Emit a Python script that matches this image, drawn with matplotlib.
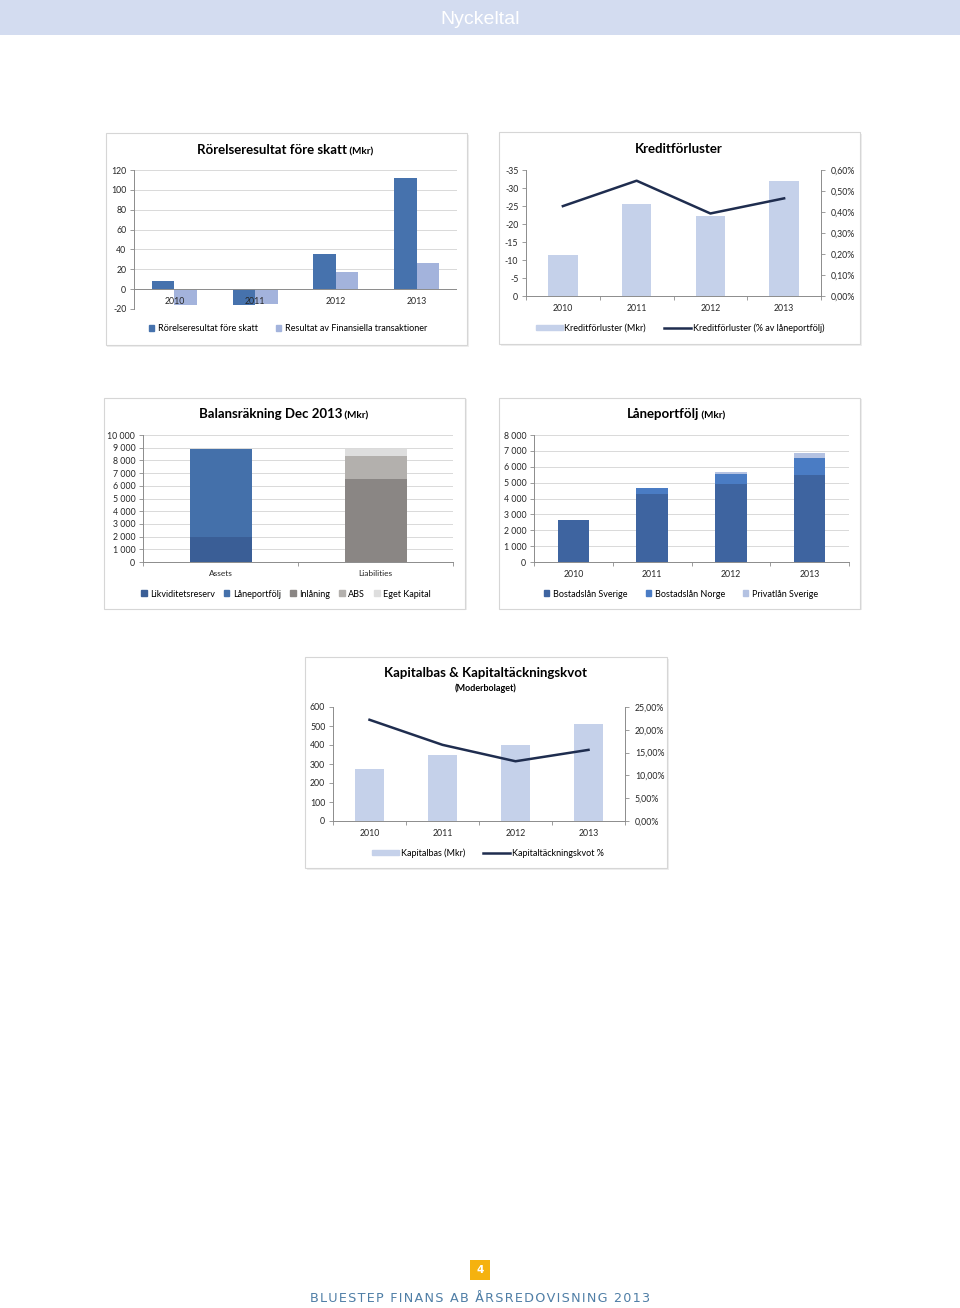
import matplotlib
matplotlib.use("Agg")
import matplotlib.pyplot as plt
from matplotlib.patches import Rectangle, Patch
from matplotlib.lines import Line2D
from matplotlib.text import Annotation
from matplotlib.ticker import FuncFormatter, MultipleLocator

# ---- data ----
years = ["2010", "2011", "2012", "2013"]

rorelse = [8, -16, 35, 112]
finans = [-16, -15, 17, 26]

kredit_mkr = [-11.5, -25.5, -22.3, -32.0]
kredit_pct = [0.00428, 0.00549, 0.00393, 0.00465]

bal_cats = ["Assets", "Liabilities"]
likviditet = [2000, 0]
laneport = [6870, 0]
inlaning = [0, 6560]
abs_ = [0, 1780]
eget = [0, 530]

sverige = [2650, 4300, 4900, 5470]
norge = [0, 350, 660, 1100]
privat = [0, 0, 85, 316]

kapitalbas = [275, 350, 402, 508]
kvot = [0.222, 0.167, 0.131, 0.156]

W, H = 960, 1308
FONT = "Lato"
TXT = "#262626"
GRID = "#d9d9d9"
AXC = "#8c8c8c"

plt.rcParams["font.family"] = [FONT, "DejaVu Sans"]
plt.rcParams["axes.unicode_minus"] = False

fig = plt.figure(figsize=(W / 100, H / 100), dpi=100)


def rect(x0, y0, x1, y1):
    return [x0 / W, 1 - y1 / H, (x1 - x0) / W, (y1 - y0) / H]


def fx(x):
    return x / W


def fy(y):
    return 1 - y / H


def thousands(v, pos=None):
    return f"{int(round(v)):,}".replace(",", " ")


def pct(v, pos=None):
    return f"{v * 100:.2f}%".replace(".", ",")


def panel(x0, y0, x1, y1):
    fig.patches.append(Rectangle((fx(x0) + 1.5 / W, fy(y1) - 1.5 / H), (x1 - x0) / W, (y1 - y0) / H,
                                 transform=fig.transFigure, facecolor="#eeeeee", edgecolor="none", zorder=-3))
    fig.patches.append(Rectangle((fx(x0), fy(y1)), (x1 - x0) / W, (y1 - y0) / H,
                                 transform=fig.transFigure, facecolor="white", edgecolor="#d6d6d6",
                                 linewidth=0.8, zorder=-2))


def title(x, y, main, unit=None):
    t = fig.text(fx(x), fy(y), main, fontsize=9.5, fontweight="bold", color="black",
                 ha="left", va="center")
    if unit:
        fig.add_artist(Annotation(" " + unit, xy=(1, 0), xycoords=t,
                                  xytext=(0, -0.5), textcoords="offset points",
                                  fontsize=7.2, fontweight="bold", color="black", va="bottom"))
    return t


def style(ax, grid=True):
    for s in ["top", "right"]:
        ax.spines[s].set_visible(False)
    ax.spines["left"].set_color(AXC)
    ax.spines["bottom"].set_color(AXC)
    ax.spines["left"].set_linewidth(0.7)
    ax.spines["bottom"].set_linewidth(0.7)
    ax.tick_params(axis="y", labelsize=6.3, colors=AXC, labelcolor=TXT, length=3, width=0.6, pad=2.5)
    ax.tick_params(axis="x", labelsize=6.3, colors=AXC, labelcolor=TXT, length=3, width=0.6, pad=6)
    if grid:
        ax.yaxis.grid(True, color=GRID, linewidth=0.7)
        ax.set_axisbelow(True)
    ax.set_facecolor("none")


def cat_ticks(ax, pos, labels):
    ax.set_xticks(pos)
    ax.set_xticklabels(labels)
    ax.set_xticks([p - 0.5 for p in pos] + [pos[-1] + 0.5], minor=True)
    ax.tick_params(axis="x", which="major", length=0)
    ax.tick_params(axis="x", which="minor", length=3, color=AXC, width=0.6)


def right_pct(ax, top, step):
    ax.set_ylim(0, top)
    ax.yaxis.set_major_locator(MultipleLocator(step))
    ax.yaxis.set_major_formatter(FuncFormatter(pct))
    for s in ["top", "left", "bottom"]:
        ax.spines[s].set_visible(False)
    ax.spines["right"].set_color(AXC)
    ax.spines["right"].set_linewidth(0.7)
    ax.tick_params(axis="y", labelsize=6.3, colors=AXC, labelcolor=TXT, length=3, width=0.6, pad=4)


# ---- header ----
fig.patches.append(Rectangle((0, fy(35)), 1, 35 / H, transform=fig.transFigure,
                             facecolor="#d3dcf0", edgecolor="none"))
fig.text(0.5, fy(19), "Nyckeltal", fontsize=14, color="white", ha="center", va="center",
         family="Liberation Sans")

x = list(range(4))

# ---- chart 1: Rörelseresultat ----
panel(106, 133, 467, 345)
ax1 = fig.add_axes(rect(134, 170, 457, 309))
style(ax1)
ax1.bar([i - 0.14 for i in x], rorelse, width=0.28, color="#4672ad", zorder=2)
ax1.bar([i + 0.14 for i in x], finans, width=0.28, color="#a3b3dc", zorder=2)
ax1.set_ylim(-20, 120)
ax1.set_xlim(-0.5, 3.5)
ax1.yaxis.set_major_locator(MultipleLocator(20))
ax1.axhline(0, color=AXC, linewidth=0.7, zorder=3)
ax1.spines["bottom"].set_visible(False)
ax1.set_xticks([])
for i, yr in enumerate(years):
    ax1.annotate(yr, (i, 0), xytext=(0, -5.5), textcoords="offset points", ha="center", va="top",
                 fontsize=6.3, color=TXT, zorder=4)
title(197, 150, "Rörelseresultat före skatt", "(Mkr)")
fig.legend(handles=[Patch(color="#4672ad", label="Rörelseresultat före skatt"),
                    Patch(color="#a3b3dc", label="Resultat av Finansiella transaktioner")],
           loc="center", bbox_to_anchor=(fx(288), fy(329)), ncol=2, frameon=False,
           fontsize=6.5, handlelength=0.6, handleheight=0.6, handletextpad=0.4, columnspacing=2.0)

# ---- chart 2: Kreditförluster ----
panel(499, 132, 860, 344)
ax2 = fig.add_axes(rect(526, 170, 821, 296))
style(ax2, grid=False)
ax2.bar(x, kredit_mkr, width=0.4, color="#c5d1ea", zorder=2)
ax2.set_ylim(0, -35)
ax2.set_xlim(-0.5, 3.5)
ax2.yaxis.set_major_locator(MultipleLocator(5))
cat_ticks(ax2, x, years)
ax2b = ax2.twinx()
ax2b.plot(x, kredit_pct, color="#1f2d4f", linewidth=1.8)
right_pct(ax2b, 0.006, 0.001)
fig.text(fx(679), fy(149), "Kreditförluster", fontsize=9.5, fontweight="bold", ha="center", va="center")
fig.legend(handles=[Patch(color="#c5d1ea", label="Kreditförluster (Mkr)"),
                    Line2D([], [], color="#1f2d4f", linewidth=1.8, label="Kreditförluster (% av låneportfölj)")],
           loc="center", bbox_to_anchor=(fx(680), fy(328)), ncol=2, frameon=False,
           fontsize=6.5, handlelength=3.0, handleheight=0.6, handletextpad=0.2, columnspacing=2.0)

# ---- chart 3: Balansräkning ----
panel(104, 398, 465, 609)
ax3 = fig.add_axes(rect(143, 435, 453, 562))
style(ax3)
bx = [0, 1]
bottom = [0, 0]
bal_series = [(likviditet, "#3a5e96", "Likviditetsreserv"),
              (laneport, "#4470aa", "Låneportfölj"),
              (inlaning, "#8a8684", "Inlåning"),
              (abs_, "#b3b0ad", "ABS"),
              (eget, "#dedede", "Eget Kapital")]
for vals, col, lab in bal_series:
    ax3.bar(bx, vals, bottom=bottom, width=0.4, color=col, label=lab, zorder=2)
    bottom = [b + v for b, v in zip(bottom, vals)]
ax3.set_ylim(0, 10000)
ax3.set_xlim(-0.5, 1.5)
ax3.yaxis.set_major_locator(MultipleLocator(1000))
ax3.yaxis.set_major_formatter(FuncFormatter(thousands))
cat_ticks(ax3, bx, bal_cats)
ax3.tick_params(axis="x", which="major", labelsize=6.0)
title(199, 414, "Balansräkning Dec 2013", "(Mkr)")
fig.legend(handles=[Patch(color=c, label=l) for _, c, l in bal_series],
           loc="center", bbox_to_anchor=(fx(286), fy(594)), ncol=5, frameon=False,
           fontsize=6.5, handlelength=0.6, handleheight=0.6, handletextpad=0.4, columnspacing=1.0)

# ---- chart 4: Låneportfölj ----
panel(499, 398, 860, 609)
ax4 = fig.add_axes(rect(534, 435, 849, 562))
style(ax4)
bottom = [0, 0, 0, 0]
lp_series = [(sverige, "#3e64a0", "Bostadslån Sverige"),
             (norge, "#4a7cc4", "Bostadslån Norge"),
             (privat, "#b4c2e2", "Privatlån Sverige")]
for vals, col, lab in lp_series:
    ax4.bar(x, vals, bottom=bottom, width=0.4, color=col, label=lab, zorder=2)
    bottom = [b + v for b, v in zip(bottom, vals)]
ax4.set_ylim(0, 8000)
ax4.set_xlim(-0.5, 3.5)
ax4.yaxis.set_major_locator(MultipleLocator(1000))
ax4.yaxis.set_major_formatter(FuncFormatter(thousands))
cat_ticks(ax4, x, years)
title(627, 414, "Låneportfölj", "(Mkr)")
fig.legend(handles=[Patch(color=c, label=l) for _, c, l in lp_series],
           loc="center", bbox_to_anchor=(fx(681), fy(594)), ncol=3, frameon=False,
           fontsize=6.5, handlelength=0.6, handleheight=0.6, handletextpad=0.4, columnspacing=2.0)

# ---- chart 5: Kapitalbas ----
panel(305, 657, 667, 868)
ax5 = fig.add_axes(rect(333, 707, 625, 821))
style(ax5, grid=False)
ax5.bar(x, kapitalbas, width=0.4, color="#c5d1ea", zorder=2)
ax5.set_ylim(0, 600)
ax5.set_xlim(-0.5, 3.5)
ax5.yaxis.set_major_locator(MultipleLocator(100))
cat_ticks(ax5, x, years)
ax5b = ax5.twinx()
ax5b.plot(x, kvot, color="#1f2d4f", linewidth=1.8)
right_pct(ax5b, 0.25, 0.05)
fig.text(fx(486), fy(673), "Kapitalbas & Kapitaltäckningskvot", fontsize=9.5, fontweight="bold",
         ha="center", va="center")
fig.text(fx(486), fy(688), "(Moderbolaget)", fontsize=6.5, fontweight="bold", ha="center", va="center")
fig.legend(handles=[Patch(color="#c5d1ea", label="Kapitalbas (Mkr)"),
                    Line2D([], [], color="#1f2d4f", linewidth=1.8, label="Kapitaltäckningskvot %")],
           loc="center", bbox_to_anchor=(fx(488), fy(853)), ncol=2, frameon=False,
           fontsize=6.5, handlelength=3.0, handleheight=0.6, handletextpad=0.2, columnspacing=2.0)

# ---- footer ----
fig.patches.append(Rectangle((fx(470), fy(1280)), 20 / W, 20 / H, transform=fig.transFigure,
                             facecolor="#f5b20f", edgecolor="none"))
fig.text(fx(480), fy(1270), "4", fontsize=7.5, fontweight="bold", color="white",
         ha="center", va="center", family="DejaVu Sans")
fig.text(0.5, fy(1299), "\u200a".join("BLUESTEP FINANS AB ÅRSREDOVISNING 2013"),
         fontsize=9.2, color="#4f7ea6", ha="center", va="center", family="DejaVu Sans")

fig.savefig("out.png", dpi=100)
